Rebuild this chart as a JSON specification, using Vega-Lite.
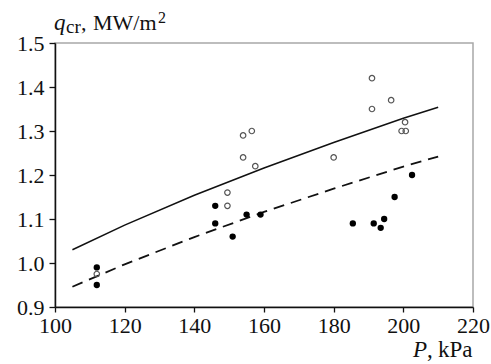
{
  "$schema": "https://vega.github.io/schema/vega-lite/v6.json",
  "width": 418,
  "height": 264,
  "autosize": "none",
  "padding": {"left": 55, "top": 43, "right": 18, "bottom": 57},
  "background": "white",
  "config": {"view": {"stroke": "#a8a8a8", "strokeWidth": 1.5}},
  "datasets": {
    "pts": [
      {"P": 191, "q": 1.42, "kind": "open"},
      {"P": 191, "q": 1.35, "kind": "open"},
      {"P": 196.5, "q": 1.37, "kind": "open"},
      {"P": 200.5, "q": 1.32, "kind": "open"},
      {"P": 199.5, "q": 1.30, "kind": "open"},
      {"P": 200.7, "q": 1.30, "kind": "open"},
      {"P": 180, "q": 1.24, "kind": "open"},
      {"P": 154, "q": 1.29, "kind": "open"},
      {"P": 156.5, "q": 1.30, "kind": "open"},
      {"P": 154, "q": 1.24, "kind": "open"},
      {"P": 157.5, "q": 1.22, "kind": "open"},
      {"P": 149.5, "q": 1.16, "kind": "open"},
      {"P": 149.5, "q": 1.13, "kind": "open"},
      {"P": 112, "q": 0.975, "kind": "open"},
      {"P": 112, "q": 0.99, "kind": "filled"},
      {"P": 112, "q": 0.95, "kind": "filled"},
      {"P": 146, "q": 1.13, "kind": "filled"},
      {"P": 146, "q": 1.09, "kind": "filled"},
      {"P": 151, "q": 1.06, "kind": "filled"},
      {"P": 155, "q": 1.11, "kind": "filled"},
      {"P": 159, "q": 1.11, "kind": "filled"},
      {"P": 185.5, "q": 1.09, "kind": "filled"},
      {"P": 191.5, "q": 1.09, "kind": "filled"},
      {"P": 193.5, "q": 1.08, "kind": "filled"},
      {"P": 194.5, "q": 1.10, "kind": "filled"},
      {"P": 197.5, "q": 1.15, "kind": "filled"},
      {"P": 202.5, "q": 1.20, "kind": "filled"}
    ],
    "curves": [
      {"P": 105, "q": 1.03, "kind": "solid"},
      {"P": 120, "q": 1.086, "kind": "solid"},
      {"P": 140, "q": 1.154, "kind": "solid"},
      {"P": 160, "q": 1.216, "kind": "solid"},
      {"P": 180, "q": 1.274, "kind": "solid"},
      {"P": 200, "q": 1.329, "kind": "solid"},
      {"P": 210, "q": 1.354, "kind": "solid"},
      {"P": 105, "q": 0.946, "kind": "dashed"},
      {"P": 120, "q": 0.997, "kind": "dashed"},
      {"P": 140, "q": 1.059, "kind": "dashed"},
      {"P": 160, "q": 1.116, "kind": "dashed"},
      {"P": 180, "q": 1.169, "kind": "dashed"},
      {"P": 200, "q": 1.219, "kind": "dashed"},
      {"P": 210, "q": 1.242, "kind": "dashed"}
    ],
    "labels": [
      {"id": "title"}
    ]
  },
  "layer": [
    {
      "data": {"name": "curves"},
      "transform": [{"filter": "datum.kind == 'solid'"}],
      "mark": {"type": "line", "color": "#111", "strokeWidth": 1.5},
      "encoding": {
        "x": {
          "field": "P", "type": "quantitative",
          "scale": {"domain": [100, 220], "nice": false, "zero": false},
          "axis": {
            "title": null, "grid": false,
            "values": [100, 110, 120, 130, 140, 150, 160, 170, 180, 190, 200, 210, 220],
            "labelExpr": "datum.value % 20 == 0 ? datum.label : ''",
            "domainColor": "#111", "domainWidth": 1.5,
            "tickColor": "#111", "tickSize": 5, "tickWidth": 1.3,
            "labelFont": "Liberation Serif", "labelFontSize": 22, "labelColor": "#111",
            "labelPadding": 3, "labelFlush": false, "labelOverlap": false
          }
        },
        "y": {
          "field": "q", "type": "quantitative",
          "scale": {"domain": [0.9, 1.5], "nice": false, "zero": false},
          "axis": {
            "title": null, "grid": false,
            "values": [0.9, 0.95, 1.0, 1.05, 1.1, 1.15, 1.2, 1.25, 1.3, 1.35, 1.4, 1.45, 1.5],
            "labelExpr": "round(datum.value*100) % 10 == 0 ? format(datum.value, '.1f') : ''",
            "domainColor": "#111", "domainWidth": 1.5,
            "tickColor": "#111", "tickSize": 6, "tickWidth": 1.3,
            "labelFont": "Liberation Serif", "labelFontSize": 22, "labelColor": "#111",
            "labelPadding": 5, "labelFlush": false, "labelOverlap": false
          }
        }
      }
    },
    {
      "data": {"name": "curves"},
      "transform": [{"filter": "datum.kind == 'dashed'"}],
      "mark": {"type": "line", "color": "#111", "strokeWidth": 1.8, "strokeDash": [11, 7]},
      "encoding": {
        "x": {"field": "P", "type": "quantitative"},
        "y": {"field": "q", "type": "quantitative"}
      }
    },
    {
      "data": {"name": "pts"},
      "transform": [{"filter": "datum.kind == 'open'"}],
      "mark": {"type": "point", "shape": "circle", "filled": false, "stroke": "#555", "strokeWidth": 1.2, "size": 30, "opacity": 1},
      "encoding": {
        "x": {"field": "P", "type": "quantitative"},
        "y": {"field": "q", "type": "quantitative"}
      }
    },
    {
      "data": {"name": "pts"},
      "transform": [{"filter": "datum.kind == 'filled'"}],
      "mark": {"type": "circle", "color": "#000", "size": 40, "opacity": 1},
      "encoding": {
        "x": {"field": "P", "type": "quantitative"},
        "y": {"field": "q", "type": "quantitative"}
      }
    },
    {
      "data": {"name": "labels"},
      "mark": {"type": "text", "font": "Liberation Serif", "fontStyle": "italic", "fontSize": 23, "align": "left", "baseline": "alphabetic", "dx": -1, "dy": -13, "color": "#111"},
      "encoding": {"x": {"datum": 100}, "y": {"datum": 1.5}, "text": {"value": "q"}}
    },
    {
      "data": {"name": "labels"},
      "mark": {"type": "text", "font": "Liberation Serif", "fontSize": 19, "align": "left", "baseline": "alphabetic", "dx": 11, "dy": -10, "color": "#111"},
      "encoding": {"x": {"datum": 100}, "y": {"datum": 1.5}, "text": {"value": "cr"}}
    },
    {
      "data": {"name": "labels"},
      "mark": {"type": "text", "font": "Liberation Serif", "fontSize": 22, "align": "left", "baseline": "alphabetic", "dx": 26, "dy": -13, "color": "#111"},
      "encoding": {"x": {"datum": 100}, "y": {"datum": 1.5}, "text": {"value": ","}}
    },
    {
      "data": {"name": "labels"},
      "mark": {"type": "text", "font": "Liberation Serif", "fontSize": 22, "align": "left", "baseline": "alphabetic", "dx": 38, "dy": -13, "color": "#111"},
      "encoding": {"x": {"datum": 100}, "y": {"datum": 1.5}, "text": {"value": "MW/m"}}
    },
    {
      "data": {"name": "labels"},
      "mark": {"type": "text", "font": "Liberation Serif", "fontSize": 16, "align": "left", "baseline": "alphabetic", "dx": 103, "dy": -20, "color": "#111"},
      "encoding": {"x": {"datum": 100}, "y": {"datum": 1.5}, "text": {"value": "2"}}
    },
    {
      "data": {"name": "labels"},
      "mark": {"type": "text", "font": "Liberation Serif", "fontStyle": "italic", "fontSize": 23, "align": "left", "baseline": "alphabetic", "dx": -60, "dy": 50, "color": "#111"},
      "encoding": {"x": {"datum": 220}, "y": {"datum": 0.9}, "text": {"value": "P"}}
    },
    {
      "data": {"name": "labels"},
      "mark": {"type": "text", "font": "Liberation Serif", "fontSize": 23, "align": "left", "baseline": "alphabetic", "dx": -46, "dy": 50, "color": "#111"},
      "encoding": {"x": {"datum": 220}, "y": {"datum": 0.9}, "text": {"value": ","}}
    },
    {
      "data": {"name": "labels"},
      "mark": {"type": "text", "font": "Liberation Serif", "fontSize": 23, "align": "left", "baseline": "alphabetic", "dx": -35, "dy": 50, "color": "#111"},
      "encoding": {"x": {"datum": 220}, "y": {"datum": 0.9}, "text": {"value": "kPa"}}
    }
  ]
}
